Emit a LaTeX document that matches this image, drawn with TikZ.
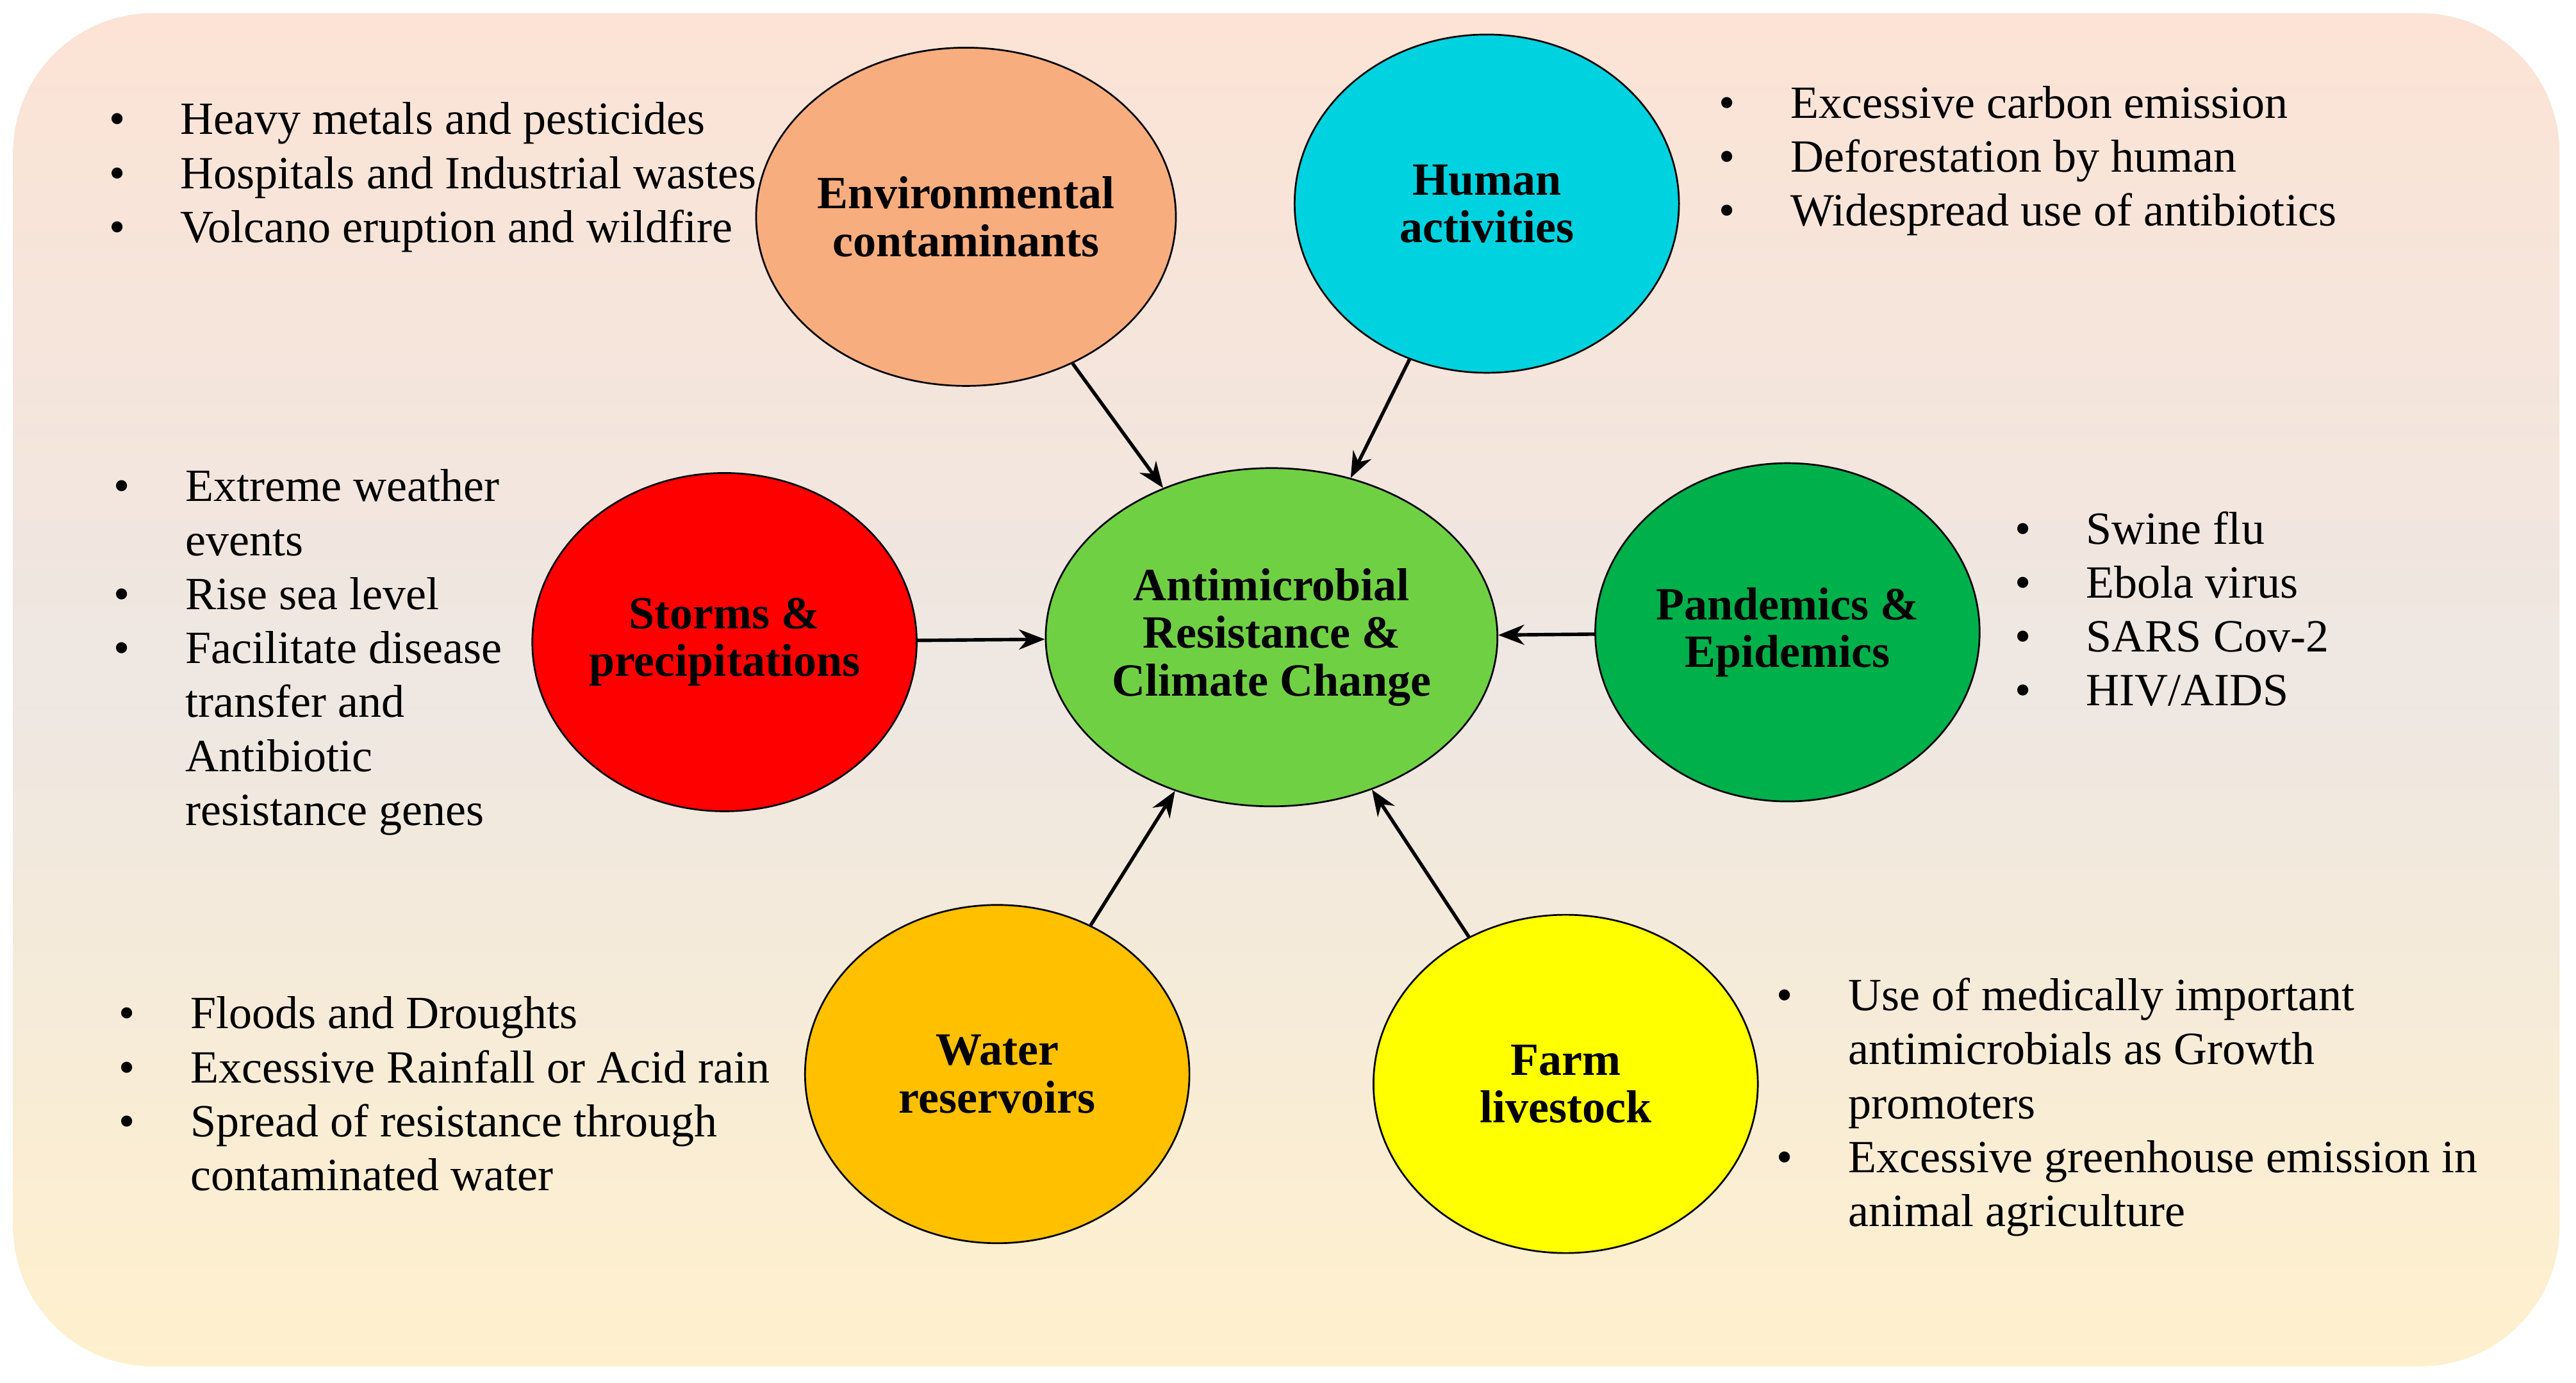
\documentclass[tikz,border=0pt]{standalone}
\usepackage{fontspec}
\setmainfont{Liberation Serif}
\usetikzlibrary{shapes.geometric,arrows.meta}
\definecolor{BgTop}{HTML}{FCE3D5}
\definecolor{BgMid}{HTML}{EEE7E2}
\definecolor{BgBot}{HTML}{FFF0CD}
\definecolor{EnvClr}{HTML}{F8AD7E}
\definecolor{HumClr}{HTML}{00D2E0}
\definecolor{AmrClr}{HTML}{70D044}
\definecolor{StormClr}{HTML}{FF0000}
\definecolor{PandClr}{HTML}{00B04A}
\definecolor{WaterClr}{HTML}{FFC000}
\definecolor{FarmClr}{HTML}{FFFF00}
\newcommand{\bl}{\textbullet\hspace{1.2em}}
\begin{document}
\begin{tikzpicture}[x=0.02cm,y=-0.02cm,
  factor/.style={ellipse,draw=black,line width=0.6pt,
    minimum width=4.68cm,minimum height=4.12cm,inner sep=0pt,align=center,
    font=\fontsize{16}{16.5}\selectfont\bfseries},
  notes/.style={anchor=north west,align=left,inner sep=0pt,
    font=\fontsize{16}{18.7}\selectfont},
  link/.style={-{Stealth[length=9pt,width=7pt]},line width=1.2pt}]
\useasboundingbox (0,0) rectangle (1568,842);
\shade[rounded corners=1.7cm,top color=BgTop,bottom color=BgBot,middle color=BgMid]
  (8,8) rectangle (1558,832);

\node[factor,fill=AmrClr] (amr) at (774,388) {Antimicrobial\\Resistance \&\\Climate Change};
\node[factor,fill=EnvClr] (env) at (588,132) {Environmental\\contaminants};
\node[factor,fill=HumClr] (hum) at (905,124) {Human\\activities};
\node[factor,fill=StormClr] (storm) at (441,391) {Storms \&\\precipitations};
\node[factor,fill=PandClr] (pand) at (1088,385) {Pandemics \&\\Epidemics};
\node[factor,fill=WaterClr] (water) at (607,654) {Water\\reservoirs};
\node[factor,fill=FarmClr] (farm) at (953,660) {Farm\\livestock};

\draw[link] (env) -- (amr);
\draw[link] (hum) -- (amr);
\draw[link] (storm) -- (amr);
\draw[link] (pand) -- (amr);
\draw[link] (water) -- (amr);
\draw[link] (farm) -- (amr);

\node[notes] (envtxt) at (66,62) {\bl Heavy metals and pesticides\\\bl Hospitals and Industrial wastes\\\bl Volcano eruption and wildfire};
\node[notes] (humtxt) at (1046,52) {\bl Excessive carbon emission\\\bl Deforestation by human\\\bl Widespread use of antibiotics};
\node[notes] (stormtxt) at (69,282) {\begin{tabular}{@{}l@{\hspace{1.2em}}l@{}}
\textbullet & Extreme weather\\ & events\\
\textbullet & Rise sea level\\
\textbullet & Facilitate disease\\ & transfer and\\ & Antibiotic\\ & resistance genes\end{tabular}};
\node[notes] (pandtxt) at (1226,311) {\bl Swine flu\\\bl Ebola virus\\\bl SARS Cov-2\\\bl HIV/AIDS};
\node[notes] (watertxt) at (72,603) {\begin{tabular}{@{}l@{\hspace{1.2em}}l@{}}
\textbullet & Floods and Droughts\\
\textbullet & Excessive Rainfall or Acid rain\\
\textbullet & Spread of resistance through\\ & contaminated water\end{tabular}};
\node[notes] (farmtxt) at (1081,592) {\begin{tabular}{@{}l@{\hspace{1.2em}}l@{}}
\textbullet & Use of medically important\\ & antimicrobials as Growth\\ & promoters\\
\textbullet & Excessive greenhouse emission in\\ & animal agriculture\end{tabular}};
\end{tikzpicture}
\end{document}
